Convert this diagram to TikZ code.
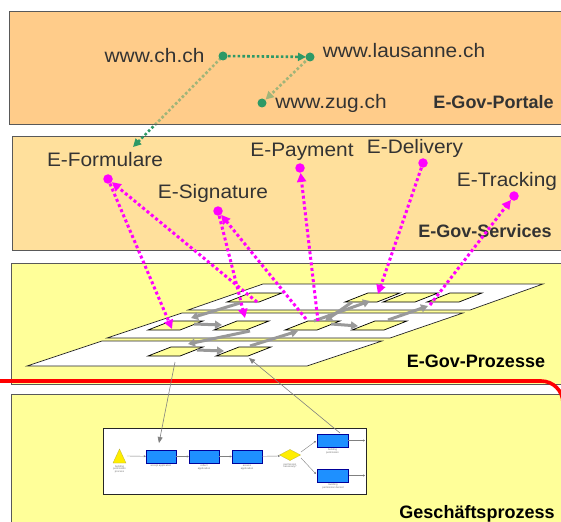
\documentclass[tikz,border=0pt]{standalone}
\usepackage{fontspec}
\setmainfont{Liberation Sans}
\usetikzlibrary{arrows.meta,calc}
\definecolor{portal}{HTML}{FFCC8A}
\definecolor{serv}{HTML}{FFE09C}
\definecolor{proz}{HTML}{FFFF99}
\definecolor{dgreen}{HTML}{2E9966}
\definecolor{mag}{HTML}{FF00FF}
\definecolor{txt}{HTML}{333333}
\definecolor{pblue}{HTML}{1E90FF}
\definecolor{pyel}{HTML}{FFEE00}
\newcommand\sx[1]{\scalebox{1.07}[1]{#1}}
\newcommand\tile[3]{%
  \draw[tileshape] (#2,#3) -- ++(23,-9) -- ++(32,0) -- ++(-23,9) -- cycle;
  \coordinate (#1) at (#2+27.5,#3-4.5);}
\begin{document}
\begin{tikzpicture}[x=1pt,y=-1pt,
  panel/.style={draw=black!65, line width=0.8pt},
  lbl/.style={text=txt, font=\fontsize{19.5}{20}\selectfont, inner sep=0pt, anchor=base},
  blbl/.style={font=\bfseries\fontsize{18}{19}\selectfont, inner sep=0pt, anchor=base},
  gdot/.style={circle, fill=dgreen, inner sep=0pt, minimum size=9pt},
  mdot/.style={circle, fill=mag, inner sep=0pt, minimum size=9.5pt},
  garr/.style={dgreen, line width=2.6pt, dash pattern=on 2.6pt off 2.2pt, -{Triangle[length=8pt,width=8pt]}},
  marr/.style={mag, line width=3pt, dash pattern=on 3pt off 2.6pt, -{Triangle[length=9pt,width=9pt]}},
  plane/.style={fill=white, draw=black!85, line width=0.7pt},
  tileshape/.style={fill=proz, draw=black, line width=0.7pt},
  flow/.style={draw=black!40, line width=3pt, -{Triangle[length=7pt,width=8pt]}},
  thinarr/.style={draw=black!50, line width=0.6pt, -{Triangle[length=6pt,width=5pt]}},
  parr/.style={draw=black!50, line width=0.4pt, -{Triangle[length=2pt,width=2pt]}},
  pbox/.style={fill=pblue, draw=blue!60!black, line width=0.3pt},
  ptxt/.style={text=black!55, font=\fontsize{2.6}{2.9}\selectfont, align=center, inner sep=0pt, anchor=north}
]
\useasboundingbox (0,0) rectangle (561,521);
\clip (0,0) rectangle (561,521);

% panels
\filldraw[panel, fill=serv] (12,136) rectangle (575,250);
\filldraw[panel, fill=proz] (11,263) rectangle (575,384);
\filldraw[panel, fill=proz] (11,394) rectangle (575,530);
\draw[red, line width=3.6pt, rounded corners=22pt] (-5,381) -- (563,381) -- (563,540);

% planes
\draw[plane] (263,284) -- (543,284) -- (470,310) -- (188,310) -- cycle;
\draw[plane] (182,313) -- (463,313) -- (390,338) -- (107,338) -- cycle;
\draw[plane] (102,341) -- (382,341) -- (307,366) -- (27,366) -- cycle;

% tiles
\tile{T1}{227}{302}
\tile{T2}{345}{302}
\tile{T3}{383}{302}
\tile{T4}{427}{302}
\tile{M1}{148}{330}
\tile{M2}{214}{330}
\tile{M3}{285}{330}
\tile{M4}{352}{330}
\tile{B1}{148}{356}
\tile{B2}{216}{356}

% flow arrows between tiles
\coordinate (f1a) at (240,303); \coordinate (f1b) at (191,318);
\coordinate (f2a) at (194,324); \coordinate (f2b) at (222,325);
\coordinate (f3a) at (250,331); \coordinate (f3b) at (188,344);
\coordinate (f4a) at (197,350); \coordinate (f4b) at (224,351);
\coordinate (f5a) at (250,346); \coordinate (f5b) at (298,331);
\coordinate (f6a) at (331,324); \coordinate (f6b) at (358,326);
\coordinate (f7a) at (314,321); \coordinate (f7b) at (370,301);
\coordinate (f8a) at (352,302); \coordinate (f8b) at (325,321);
\coordinate (f9a) at (388,320); \coordinate (f9b) at (428,306);
\draw[flow] (f1a) -- (f1b);
\draw[flow] (f2a) -- (f2b);
\draw[flow] (f3a) -- (f3b);
\draw[flow] (f4a) -- (f4b);
\draw[flow] (f5a) -- (f5b);
\draw[flow] (f6a) -- (f6b);
\draw[flow] (f7a) -- (f7b);
\draw[flow] (f8a) -- (f8b);
\draw[flow] (f9a) -- (f9b);

% business process picture
\filldraw[fill=white, draw=black!85, line width=1pt] (103,428) rectangle (366,494);
\filldraw[fill=pyel, draw=yellow!70!black, line width=0.3pt] (113,463) -- (119.5,449) -- (126,463) -- cycle;
\node[pbox, minimum width=30pt, minimum height=13pt, inner sep=0pt] (pb1) at (161,456.5) {};
\node[pbox, minimum width=30pt, minimum height=13pt, inner sep=0pt] (pb2) at (204,456.5) {};
\node[pbox, minimum width=30pt, minimum height=13pt, inner sep=0pt] (pb3) at (247,456.5) {};
\filldraw[fill=pyel, draw=yellow!70!black, line width=0.3pt] (279.5,455) -- (290,449.5) -- (300.5,455) -- (290,460.5) -- cycle;
\coordinate (dia) at (290,455);
\node[pbox, minimum width=31pt, minimum height=13pt, inner sep=0pt] (pb4) at (332.5,440.5) {};
\node[pbox, minimum width=31pt, minimum height=13pt, inner sep=0pt] (pb5) at (333,475.5) {};
\coordinate (tri) at (127,456);
\coordinate (out4) at (365,440.5);
\coordinate (out5) at (365,475.5);
\draw[parr] (tri) -- (pb1);
\draw[parr] (pb1) -- (pb2);
\draw[parr] (pb2) -- (pb3);
\draw[parr] (pb3) -- (280,456);
\draw[parr] (301,452) -- (316,441);
\draw[parr] (301,458) -- (316,474);
\draw[parr] (pb4) -- (out4);
\draw[parr] (pb5) -- (out5);
\node[ptxt] at (119.5,465) {building\\permission\\process};
\node[ptxt] at (161,464.5) {accept application};
\node[ptxt] at (204,464.5) {collect\\application};
\node[ptxt] at (247,464.5) {assess\\application};
\node[ptxt] at (290,463) {permission\\necessary?};
\node[ptxt] at (332.5,448.5) {building\\permission};
\node[ptxt] at (333,483.5) {building\\permission denied};

% thin links between tiles and process picture
\coordinate (g1a) at (175,362); \coordinate (g1b) at (159,443);
\coordinate (g2a) at (340,433); \coordinate (g2b) at (249,358);
\draw[thinarr] (g1a) -- (g1b);
\draw[thinarr] (g2a) -- (g2b);

% portal panel and green links
\fill[portal] (9,11) rectangle (575,124);
\coordinate (chdot) at (223,56);
\coordinate (ladot) at (310,57);
\coordinate (zgdot) at (262,103);
\coordinate (formin) at (133,147);
\draw[garr, shorten <=3pt] (chdot) -- (formin);
\draw[garr, shorten <=6pt, shorten >=5pt] (ladot) -- (zgdot);
\fill[portal, opacity=0.55] (9,11) rectangle (575,124);
\draw[panel] (575,11) -- (9,11) -- (9,124) -- (575,124);
\draw[garr, shorten <=5pt, shorten >=4pt] (chdot) -- (ladot);
\node[gdot] (ch) at (chdot) {};
\node[gdot] (la) at (ladot) {};
\node[gdot] (zg) at (zgdot) {};

% texts
\node[lbl] (tch) at (154.5,63) {\sx{www.ch.ch}};
\node[lbl] (tla) at (404,58) {\sx{www.lausanne.ch}};
\node[lbl] (tzg) at (331,109) {\sx{www.zug.ch}};
\node[blbl, text=txt] (tpo) at (493.5,109) {E-Gov-Portale};
\node[lbl] (tfo) at (105,167) {\sx{E-Formulare}};
\node[lbl] (tsi) at (213,198) {\sx{E-Signature}};
\node[lbl] (tpa) at (302,157) {\sx{E-Payment}};
\node[lbl] (tde) at (415,154) {\sx{E-Delivery}};
\node[lbl] (ttr) at (507,187) {\sx{E-Tracking}};
\node[blbl, text=txt] (tse) at (485,237) {E-Gov-Services};
\node[blbl] (tpr) at (476,367) {E-Gov-Prozesse};
\node[blbl] (tgp) at (477,518) {Geschäftsprozess};

% magenta service dots and links
\node[mdot] (fdot) at (108,179) {};
\node[mdot] (sdot) at (218,211) {};
\node[mdot] (pdot) at (300,168) {};
\node[mdot] (ddot) at (423,163) {};
\node[mdot] (tdot) at (514,196) {};
\coordinate (m1b) at (172,329);
\coordinate (m2a) at (257,302);
\coordinate (m3b) at (245,318);
\coordinate (m4a) at (306,319);
\coordinate (m5a) at (318,321);
\coordinate (m6b) at (378,294);
\coordinate (m7a) at (430,305);
\draw[marr] (fdot) -- (m1b);
\draw[marr] (m2a) -- (fdot);
\draw[marr] (sdot) -- (m3b);
\draw[marr] (m4a) -- (sdot);
\draw[marr] (m5a) -- (pdot);
\draw[marr] (ddot) -- (m6b);
\draw[marr] (m7a) -- (tdot);
\end{tikzpicture}
\end{document}
